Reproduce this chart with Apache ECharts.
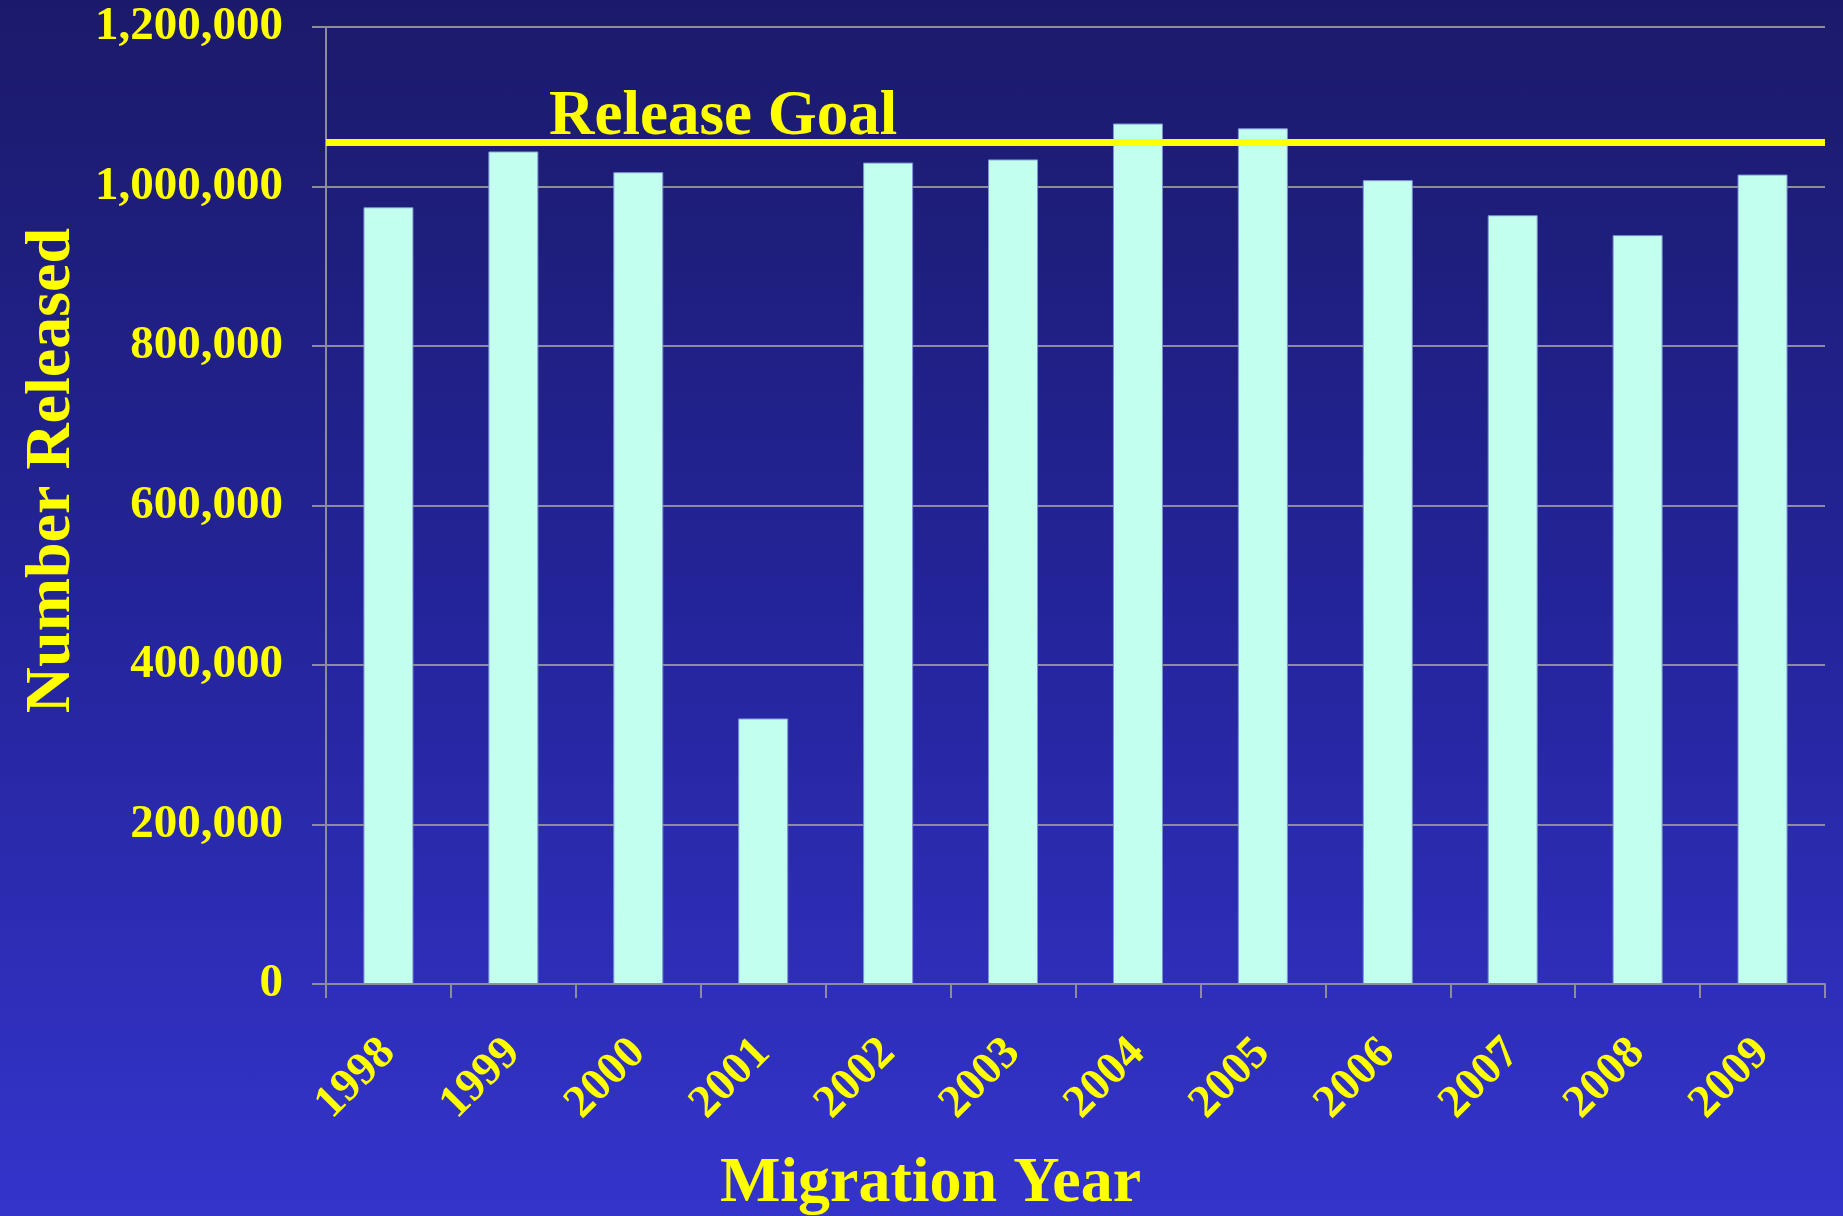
<!DOCTYPE html>
<html>
<head>
<meta charset="utf-8">
<script src="https://cdn.jsdelivr.net/npm/echarts@6/dist/echarts.min.js"></script>
<style>
  html, body { margin: 0; padding: 0; }
  #main {
    width: 1843px;
    height: 1216px;
    background: linear-gradient(to bottom, #1b1a6a 0%, #24249a 50%, #3434cc 100%);
  }
</style>
</head>
<body>
<div id="main"></div>
<script>
// data
const years = ["1998", "1999", "2000", "2001", "2002", "2003", "2004", "2005", "2006", "2007", "2008", "2009"];
const released = [974000, 1044000, 1018000, 333000, 1030000, 1034000, 1079000, 1073000, 1008000, 964000, 939000, 1015000];
const releaseGoal = 1056000;
const yMin = 0;
const yMax = 1200000;
const yStep = 200000;

const FONT = "'Liberation Serif', 'Times New Roman', serif";
const YELLOW = "#ffff00";
const GRAY = "#8c8c9c";

var chartDom = document.getElementById("main");
var myChart = echarts.init(chartDom, null, { renderer: "canvas" });
var option;

option = {
  backgroundColor: "transparent",
  animation: false,
  grid: {
    left: 326,
    right: 18,
    top: 27,
    bottom: 232,
    containLabel: false,
    outerBoundsMode: "none",
  },
  xAxis: {
    type: "category",
    data: years,
    boundaryGap: true,
    name: "Migration Year",
    nameLocation: "middle",
    nameGap: 168,
    nameTextStyle: {
      color: YELLOW,
      fontFamily: FONT,
      fontWeight: "bold",
      fontSize: 64,
      padding: [0, 290, 0, 0],
    },
    axisLine: { show: true, lineStyle: { color: GRAY, width: 2 } },
    axisTick: { show: true, inside: false, length: 14, alignWithLabel: false, lineStyle: { color: GRAY, width: 2 } },
    axisLabel: {
      color: YELLOW,
      fontFamily: FONT,
      fontWeight: "bold",
      fontSize: 46,
      rotate: 45,
      margin: 62,
      interval: 0,
    },
    splitLine: { show: false },
  },
  yAxis: {
    type: "value",
    min: yMin,
    max: yMax,
    interval: yStep,
    name: "Number Released",
    nameLocation: "middle",
    nameGap: 242,
    nameRotate: 90,
    nameTextStyle: {
      color: YELLOW,
      fontFamily: FONT,
      fontWeight: "bold",
      fontSize: 64,
      padding: [0, 0, 0, 70],
    },
    axisLine: { show: true, lineStyle: { color: GRAY, width: 2 } },
    axisTick: { show: true, inside: false, length: 14, lineStyle: { color: GRAY, width: 2 } },
    axisLabel: {
      color: YELLOW,
      fontFamily: FONT,
      fontWeight: "bold",
      fontSize: 47,
      margin: 43,
      formatter: (v) => v.toLocaleString("en-US"),
    },
    splitLine: { show: true, lineStyle: { color: GRAY, width: 2 } },
  },
  series: [
    {
      name: "Number Released",
      type: "bar",
      data: released,
      barWidth: 50,
      itemStyle: {
        color: "#c2ffee",
        borderColor: "#7f90d6",
        borderWidth: 1,
      },
      markLine: {
        silent: true,
        symbol: "none",
        lineStyle: { color: YELLOW, width: 7, type: "solid" },
        label: {
          show: true,
          position: "insideStartTop",
          distance: [223, -7],
          formatter: "Release Goal",
          color: YELLOW,
          fontFamily: FONT,
          fontWeight: "bold",
          fontSize: 63,
        },
        data: [{ yAxis: releaseGoal }],
      },
    },
  ],
};

option && myChart.setOption(option);
</script>
</body>
</html>
